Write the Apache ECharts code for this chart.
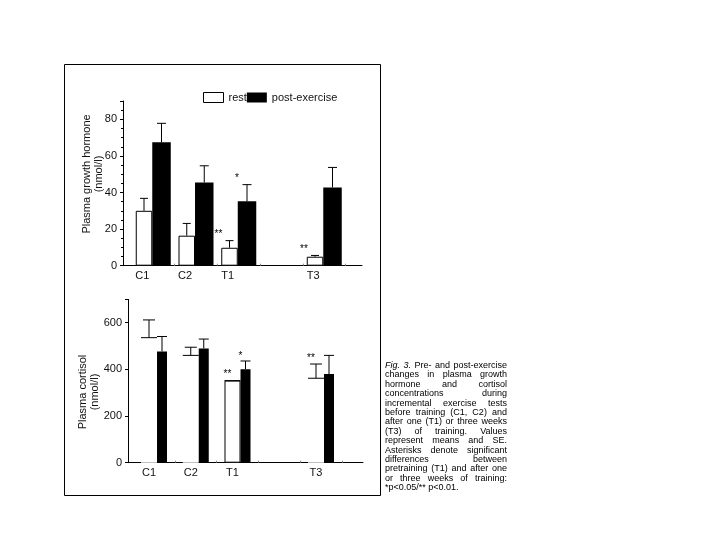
<!DOCTYPE html>
<html><head><meta charset="utf-8">
<script src="https://cdn.jsdelivr.net/npm/echarts@6/dist/echarts.min.js"></script>
<style>html,body{margin:0;padding:0;background:#fff}#c{width:720px;height:540px}</style>
</head><body><div id="c"></div>
<script>
// ---- data ----
const categories = ['C1', 'C2', 'T1', 'T3'];
const catPos = [1, 2, 3, 5];
const ghRest = [30, 16.4, 9.8, 4.9];
const ghRestErr = [36.8, 23.1, 13.7, 5.6];
const ghPost = [67.4, 45.5, 35.2, 42.8];
const ghPostErr = [77.8, 54.6, 44.3, 53.7];
const ghRestSig = ['', '', '**', '**'];
const ghPostSig = ['', '', '*', ''];
const cortRest = [536, 460, 352, 362];
const cortRestErr = [612, 495, 352, 423];
const cortPost = [477, 490, 401, 380];
const cortPostErr = [541, 530, 436, 460];
const cortRestSig = ['', '', '**', '**'];
const cortPostSig = ['', '', '*', ''];
const ghTicks = [0, 20, 40, 60, 80];
const cortTicks = [0, 200, 400, 600];
const seriesNames = ['rest', 'post-exercise'];
const ghName = ['Plasma growth hormone', '(nmol/l)'];
const cortName = ['Plasma cortisol', '(nmol/l)'];
const captionLines = [
  'Fig. 3. Pre- and post-exercise',
  'changes in plasma growth',
  'hormone and cortisol',
  'concentrations during',
  'incremental exercise tests',
  'before training (C1, C2) and',
  'after one (T1) or three weeks',
  '(T3) of training. Values',
  'represent means and SE.',
  'Asterisks denote significant',
  'differences between',
  'pretraining (T1) and after one',
  'or three weeks of training:',
  '*p<0.05/** p<0.01.'
];

// ---- layout ----
const FONT = '"Liberation Sans", Arial, sans-serif';
const gTop = { left: 123, right: 720 - 362, top: 101, bottom: 540 - 265.7, min: 0.292, max: 5.883, restW: 16.5, postW: 18.5 };
const gBot = { left: 128, right: 720 - 363, top: 299.4, bottom: 540 - 462.7, min: 0.377, max: 6.006, restW: 16, postW: 10 };

function pairs(vals) { return vals.map((v, i) => [catPos[i], v]); }
function triples(vals, errs) { return vals.map((v, i) => [catPos[i], v, errs[i]]); }

function errSeries(idx, vals, errs, sig, offset, cap, opts) {
  return {
    type: 'custom', xAxisIndex: idx, yAxisIndex: idx, z: 5, silent: true,
    data: triples(vals, errs),
    renderItem: function (params, api) {
      const x = api.value(0), v = api.value(1), e = api.value(2);
      const s = sig[params.dataIndex];
      const p0 = api.coord([x, v]);
      const p1 = api.coord([x, e]);
      const cx = p0[0] + offset;
      const children = [];
      if (e > v) {
        children.push({ type: 'line', shape: { x1: cx, y1: p0[1], x2: cx, y2: p1[1] }, style: { stroke: '#000', lineWidth: 1 } });
        children.push({ type: 'line', shape: { x1: cx - cap / 2, y1: p1[1], x2: cx + cap / 2, y2: p1[1] }, style: { stroke: '#000', lineWidth: 1 } });
      }
      if (opts.topLine) {
        children.push({ type: 'line', shape: { x1: cx - opts.w / 2, y1: p0[1], x2: cx + opts.w / 2, y2: p0[1] }, style: { stroke: '#000', lineWidth: 1 } });
      }
      if (s) {
        children.push({ type: 'text', x: cx + opts.sx, y: Math.min(p0[1], p1[1]) + opts.sy,
          style: { text: s, font: '10px ' + FONT, fill: '#000', align: 'center', verticalAlign: 'middle' } });
      }
      return { type: 'group', children: children };
    }
  };
}

const labelMap = {};
catPos.forEach((p, i) => labelMap[p] = categories[i]);

function makeX(idx, g, shift) {
  return {
    type: 'value', gridIndex: idx, min: g.min, max: g.max,
    axisLine: { show: true, lineStyle: { color: '#000', width: 1 } },
    splitLine: { show: false },
    axisTick: { show: true, inside: true, length: 2, customValues: [1.5, 2.5, 3.5, 4.5, 5.5], lineStyle: { color: '#888' } },
    axisLabel: { customValues: catPos, formatter: v => labelMap[v] || '', color: '#111', fontSize: 11, fontFamily: FONT, margin: 5, padding: [0, shift, 0, 0] }
  };
}
function makeY(idx, max, interval, lastLabel, minor) {
  return {
    type: 'value', gridIndex: idx, min: 0, max: max, interval: interval,
    axisLine: { show: true, lineStyle: { color: '#000', width: 1 } },
    splitLine: { show: false },
    axisTick: { show: true, inside: false, length: 3, lineStyle: { color: '#000' } },
    minorTick: { show: minor, splitNumber: 4, length: 2, lineStyle: { color: '#000' } },
    axisLabel: { formatter: v => (v > lastLabel ? '' : String(v)), color: '#111', fontSize: 11, fontFamily: FONT, margin: 6 }
  };
}

// caption, frame, axis names
const ctx = document.createElement('canvas').getContext('2d');
function tw(t, f) { ctx.font = f; return ctx.measureText(t).width; }
const graphics = [];
graphics.push({ type: 'rect', shape: { x: 64.5, y: 64.5, width: 316, height: 431 }, style: { fill: 'none', stroke: '#000', lineWidth: 1 }, silent: true });
const capFont = '9px ' + FONT;
const capLeft = 385, capRight = 507, capTop = 361, capLH = 9.4;
captionLines.forEach((line, i) => {
  const words = line.split(' ');
  const fonts = words.map((wd, j) => (i === 0 && j < 2) ? 'italic ' + capFont : capFont);
  const widths = words.map((wd, j) => tw(wd, fonts[j]));
  const total = widths.reduce((a, b) => a + b, 0);
  const justify = i < captionLines.length - 1 && words.length > 1;
  const gap = justify ? (capRight - capLeft - total) / (words.length - 1) : tw(' ', capFont);
  let x = capLeft;
  words.forEach((wd, j) => {
    graphics.push({ type: 'text', x: x, y: capTop + i * capLH, silent: true, style: { text: wd, font: fonts[j], fill: '#000', verticalAlign: 'top' } });
    x += widths[j] + gap;
  });
});
function axisName(lines, x1, x2, cy) {
  graphics.push({ type: 'text', x: x1, y: cy, rotation: Math.PI / 2, silent: true, style: { text: lines[0], font: '11px ' + FONT, fill: '#111', align: 'center', verticalAlign: 'middle' } });
  graphics.push({ type: 'text', x: x2, y: cy, rotation: Math.PI / 2, silent: true, style: { text: lines[1], font: '11px ' + FONT, fill: '#111', align: 'center', verticalAlign: 'middle' } });
}
axisName(ghName, 87, 99, 174);
axisName(cortName, 83, 95, 392);

const topRestOff = -(gTop.restW + gTop.postW) / 2 + gTop.restW / 2;
const topPostOff = gTop.restW / 2;
const botRestOff = -(gBot.restW + gBot.postW) / 2 + gBot.restW / 2;
const botPostOff = gBot.restW / 2;

const option = {
  animation: false,
  backgroundColor: '#fff',
  legend: {
    data: [
      { name: seriesNames[0], icon: 'rect', itemStyle: { color: '#fff', borderColor: '#000', borderWidth: 1 } },
      { name: seriesNames[1], icon: 'rect', itemStyle: { color: '#000' } }
    ],
    left: 203, top: 92, itemWidth: 20, itemHeight: 10, itemGap: 0, padding: 0,
    textStyle: { fontSize: 11, fontFamily: FONT, color: '#111' }, selectedMode: false
  },
  grid: [
    { left: gTop.left, right: gTop.right, top: gTop.top, bottom: gTop.bottom, containLabel: false },
    { left: gBot.left, right: gBot.right, top: gBot.top, bottom: gBot.bottom, containLabel: false }
  ],
  xAxis: [makeX(0, gTop, 22), makeX(1, gBot, 10)],
  yAxis: [makeY(0, 90, 20, 80, true), makeY(1, 700, 200, 600, false)],
  series: [
    { name: seriesNames[0], type: 'bar', xAxisIndex: 0, yAxisIndex: 0, barWidth: gTop.restW, barGap: '0%',
      itemStyle: { color: '#fff', borderColor: '#000', borderWidth: 1 }, data: pairs(ghRest) },
    { name: seriesNames[1], type: 'bar', xAxisIndex: 0, yAxisIndex: 0, barWidth: gTop.postW, barGap: '0%',
      itemStyle: { color: '#000' }, data: pairs(ghPost) },
    { name: seriesNames[0], type: 'bar', xAxisIndex: 1, yAxisIndex: 1, barWidth: gBot.restW, barGap: '0%',
      itemStyle: { color: '#fff', borderWidth: 0 },
      data: pairs(cortRest).map((d, i) => categories[i] === 'T1' ? { value: d, itemStyle: { color: '#fff', borderColor: '#000', borderWidth: 1 } } : { value: d }) },
    { name: seriesNames[1], type: 'bar', xAxisIndex: 1, yAxisIndex: 1, barWidth: gBot.postW, barGap: '0%',
      itemStyle: { color: '#000' }, data: pairs(cortPost) },
    errSeries(0, ghRest, ghRestErr, ghRestSig, topRestOff, 8, { sx: -11, sy: -6 }),
    errSeries(0, ghPost, ghPostErr, ghPostSig, topPostOff, 9, { sx: -10, sy: -6 }),
    errSeries(1, cortRest, cortRestErr, cortRestSig, botRestOff, 12, { sx: -5, sy: -6, topLine: true, w: gBot.restW }),
    errSeries(1, cortPost, cortPostErr, cortPostSig, botPostOff, 10, { sx: -5, sy: -5 })
  ],
  graphic: graphics
};
const chart = echarts.init(document.getElementById('c'), null, { renderer: 'canvas' });
chart.setOption(option);
</script></body></html>
